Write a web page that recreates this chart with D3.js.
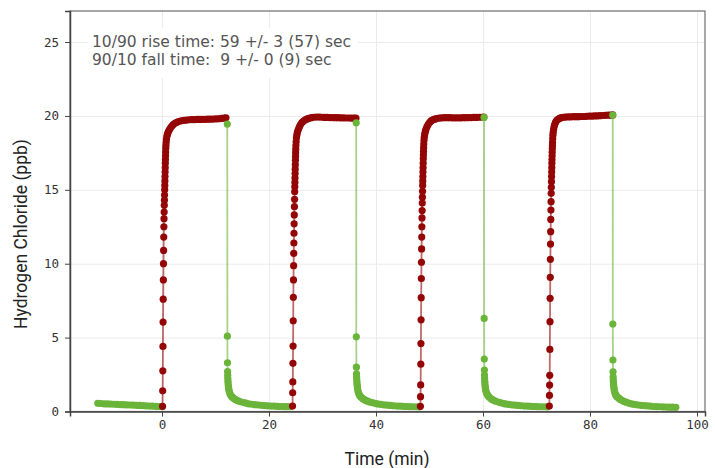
<!DOCTYPE html>
<html>
<head>
<meta charset="utf-8">
<script src="https://cdn.jsdelivr.net/npm/d3@7"></script>
<style>
  body { margin: 0; background: #fff; }
</style>
</head>
<body>
<div id="chart"></div>
<script>
// HCl step test: red = rising (gas on), green = falling (gas off)

// tail before the first step (time in min, ppb)
const preT = [-12.0, -11.4, -10.8, -10.2, -9.6, -9.0, -8.4, -7.8, -7.2, -6.6, -6.0,
              -5.4, -4.8, -4.2, -3.6, -3.0, -2.4, -1.8, -1.2, -0.6, 0.0];
const preV = [0.55, 0.54, 0.52, 0.51, 0.50, 0.49, 0.48, 0.47, 0.46, 0.45, 0.44,
              0.43, 0.42, 0.41, 0.40, 0.38, 0.37, 0.36, 0.35, 0.34, 0.33];

// step times (min)
const riseStart = [0.1, 24.4, 48.3, 72.4];
const fallStart = [12.2, 36.3, 60.2, 84.25];

// rise: steep part (distinct dots), times after rise start
const steepT = [0, 0.025, 0.05, 0.075, 0.1, 0.125, 0.15, 0.175, 0.2, 0.225, 0.25,
                0.275, 0.3, 0.325, 0.35, 0.375, 0.4];
const steepV1 = [0.35, 1.4, 2.75, 4.4, 6.05, 7.6, 8.9, 10.0, 10.9, 11.8, 12.5, 13.05, 13.5, 13.95, 14.3, 14.65, 15.0];
const steepV2 = [0.37, 1.27, 2.0, 3.26, 4.43, 6.14, 7.73, 8.9, 9.87, 10.7, 11.4, 12.06, 12.7, 13.3, 13.86, 14.36, 14.87];
const steepV3 = [0.35, 1.0, 1.8, 3.2, 4.6, 6.2, 7.7, 9.0, 10.1, 11.0, 11.8, 12.5, 13.1, 13.6, 14.1, 14.5, 14.9];
const steepV4 = [0.37, 1.09, 1.79, 2.45, 4.2, 6.08, 7.66, 9.08, 10.3, 11.33, 12.17, 13.0, 13.63, 14.2, 14.76, 15.17, 15.55];

// rise: knee and plateau, times after rise start
const kneeT = [0.42, 0.44, 0.46, 0.48, 0.5, 0.52, 0.54, 0.56, 0.58, 0.6,
               0.63, 0.67, 0.72, 0.8, 0.9, 1.0, 1.15, 1.3, 1.5, 1.75, 2.0,
               2.3, 2.65, 3.0, 3.5, 4.0, 4.5, 5.0, 5.5, 6.0, 6.5, 7.0, 7.5, 8.0, 8.5, 9.0,
               9.5, 10.0, 10.5, 11.0, 11.5, 11.85];
const kneeV1 = [15.3, 15.6, 15.9, 16.2, 16.5, 16.8, 17.05, 17.3, 17.55, 17.8,
                18.0, 18.2, 18.4, 18.6, 18.75, 18.85, 18.98, 19.08, 19.2, 19.32, 19.42,
                19.5, 19.57, 19.62, 19.67, 19.7, 19.72, 19.74, 19.75, 19.75, 19.76, 19.76, 19.77, 19.77, 19.78, 19.78,
                19.79, 19.8, 19.81, 19.83, 19.85, 19.87];
const kneeV2 = [15.2, 15.5, 15.8, 16.1, 16.4, 16.7, 17.0, 17.25, 17.5, 17.75,
                18.0, 18.25, 18.5, 18.7, 18.88, 19.0, 19.15, 19.28, 19.42, 19.55, 19.64,
                19.72, 19.78, 19.83, 19.88, 19.91, 19.92, 19.92, 19.91, 19.9, 19.9, 19.89, 19.89, 19.88, 19.88, 19.87,
                19.87, 19.86, 19.86, 19.85, 19.85, 19.85];
const kneeV3 = [15.3, 15.6, 15.9, 16.2, 16.5, 16.8, 17.1, 17.35, 17.6, 17.85,
                18.1, 18.35, 18.55, 18.75, 18.92, 19.05, 19.2, 19.32, 19.45, 19.57, 19.66,
                19.73, 19.78, 19.82, 19.85, 19.87, 19.88, 19.88, 19.88, 19.87, 19.87, 19.87, 19.87, 19.88, 19.88, 19.89,
                19.89, 19.9, 19.9, 19.91, 19.91, 19.92];
const kneeV4 = [15.9, 16.2, 16.5, 16.8, 17.05, 17.3, 17.55, 17.8, 18.0, 18.2,
                18.45, 18.7, 18.9, 19.1, 19.28, 19.42, 19.55, 19.65, 19.74, 19.8, 19.85,
                19.89, 19.91, 19.92, 19.93, 19.94, 19.95, 19.95, 19.95, 19.96, 19.96, 19.97, 19.98, 19.99, 20.0, 20.01,
                20.02, 20.03, 20.04, 20.05, 20.06, 20.07];

// fall and decay, times after fall start
const decayT = [0, 0.02, 0.04, 0.06, 0.08, 0.1, 0.13, 0.16, 0.2, 0.25,
                0.3, 0.4, 0.5, 0.65, 0.8, 1.0, 1.25, 1.5, 1.8, 2.1,
                2.5, 3.0, 3.5, 4.0, 4.6, 5.2, 5.8, 6.4, 7.0, 7.6,
                8.2, 8.8, 9.4, 10.0, 10.6, 11.2, 11.8];
const decayV1 = [19.45, 5.1, 3.3, 2.7, 2.45, 2.25, 2.05, 1.88, 1.72, 1.58,
                 1.46, 1.32, 1.2, 1.1, 1.02, 0.95, 0.88, 0.82, 0.76, 0.71,
                 0.66, 0.61, 0.56, 0.52, 0.49, 0.46, 0.44, 0.42, 0.40, 0.38,
                 0.37, 0.36, 0.35, 0.34, 0.33, 0.33, 0.32];
const decayV2 = [19.54, 5.05, 3.0, 2.55, 2.35, 2.18, 2.0, 1.85, 1.7, 1.56,
                 1.45, 1.3, 1.19, 1.09, 1.01, 0.94, 0.87, 0.81, 0.75, 0.7,
                 0.65, 0.6, 0.55, 0.51, 0.48, 0.45, 0.43, 0.41, 0.39, 0.37,
                 0.36, 0.35, 0.34, 0.33, 0.32, 0.32, 0.31];
const decayV3 = [19.9, 6.3, 3.55, 2.8, 2.47, 2.25, 2.05, 1.88, 1.72, 1.58,
                 1.46, 1.32, 1.22, 1.12, 1.04, 0.96, 0.88, 0.82, 0.76, 0.71,
                 0.66, 0.6, 0.55, 0.51, 0.48, 0.45, 0.43, 0.41, 0.39, 0.37,
                 0.36, 0.35, 0.34, 0.33, 0.32, 0.32, 0.31];
const decayV4 = [20.06, 5.92, 3.48, 2.69, 2.35, 2.15, 1.98, 1.83, 1.68, 1.54,
                 1.42, 1.28, 1.17, 1.07, 1.0, 0.94, 0.87, 0.8, 0.74, 0.68,
                 0.63, 0.57, 0.52, 0.48, 0.45, 0.42, 0.4, 0.38, 0.36, 0.34,
                 0.33, 0.32, 0.31, 0.3, 0.29, 0.29, 0.28];

const xTicks = [0, 20, 40, 60, 80, 100];
const yTicks = [0, 5, 10, 15, 20, 25];
const notes = ["10/90 rise time: 59 +/- 3 (57) sec", "90/10 fall time:  9 +/- 0 (9) sec"];

const RED = "#940606", GREEN = "#6ab43a";

// build segments in time order
const steepVs = [steepV1, steepV2, steepV3, steepV4];
const kneeVs = [kneeV1, kneeV2, kneeV3, kneeV4];
const decayVs = [decayV1, decayV2, decayV3, decayV4];

var segments = [{color: GREEN, pts: preT.map((t, i) => [t, preV[i]])}];
for (var c = 0; c < 4; c++) {
    var rise = steepVs[c].map((v, i) => [riseStart[c] + steepT[i], v])
        .concat(kneeVs[c].map((v, i) => [riseStart[c] + kneeT[i], v]));
    segments.push({color: RED, pts: rise});
    var fall = decayVs[c].map((v, i) => [fallStart[c] + decayT[i], v]);
    segments.push({color: GREEN, pts: fall});
}

// dimensions
var margin = {top: 11, right: 10, bottom: 56.5, left: 70};
var width = 715 - margin.left - margin.right;
var height = 468 - margin.top - margin.bottom;

var svg = d3.select("#chart").append("svg")
    .attr("width", 715)
    .attr("height", 468);

var g = svg.append("g")
    .attr("transform", "translate(" + margin.left + "," + margin.top + ")");

var x = d3.scaleLinear().domain([-17.2, 101.5]).range([0, width]);
var y = d3.scaleLinear().domain([0, 27.1]).range([height, 0]);

// grid
g.append("g")
    .attr("transform", "translate(0," + height + ")")
    .call(d3.axisBottom(x).tickValues(xTicks).tickSize(-height).tickFormat(""))
    .call(a => a.select(".domain").remove())
    .selectAll("line").attr("stroke", "#ebebeb");
g.append("g")
    .call(d3.axisLeft(y).tickValues(yTicks).tickSize(-width).tickFormat(""))
    .call(a => a.select(".domain").remove())
    .selectAll("line").attr("stroke", "#ebebeb");

// white box behind the note text
g.append("rect")
    .attr("x", 18).attr("y", 17)
    .attr("width", 270).attr("height", 50)
    .attr("fill", "#fff");

// data
var line = d3.line().x(d => x(d[0])).y(d => y(d[1]));
segments.forEach(s => {
    var sg = g.append("g");
    sg.append("path")
        .attr("d", line(s.pts))
        .attr("fill", "none")
        .attr("stroke", s.color)
        .attr("stroke-opacity", 0.6)
        .attr("stroke-width", 1.8);
    sg.selectAll("circle")
        .data(s.pts)
        .enter().append("circle")
        .attr("cx", d => x(d[0]))
        .attr("cy", d => y(d[1]))
        .attr("r", 3.6)
        .attr("fill", s.color);
});

// frame
g.append("rect")
    .attr("width", width).attr("height", height)
    .attr("fill", "none")
    .attr("stroke", "#6e6e6e")
    .attr("stroke-width", 1.2);

// axes
var xAxis = g.append("g")
    .attr("transform", "translate(0," + height + ")")
    .call(d3.axisBottom(x).tickValues(xTicks).tickSize(5).tickPadding(4));
var yAxis = g.append("g")
    .call(d3.axisLeft(y).tickValues(yTicks).tickSize(5).tickPadding(6));
[xAxis, yAxis].forEach(a => {
    a.select(".domain").attr("stroke", "#444").attr("stroke-width", 1.5);
    a.selectAll(".tick line").attr("stroke", "#444");
    a.selectAll(".tick text")
        .style("font-family", "'DejaVu Sans Mono', monospace")
        .style("font-size", "12.5px")
        .attr("fill", "#333");
});

// note text
g.append("g").selectAll("text")
    .data(notes)
    .enter().append("text")
    .attr("x", 22)
    .attr("y", (d, i) => 35.5 + i * 18.5)
    .attr("xml:space", "preserve")
    .style("white-space", "pre")
    .style("font-family", "'DejaVu Sans', sans-serif")
    .style("font-size", "15.5px")
    .attr("fill", "#555")
    .text(d => d);

// axis titles
svg.append("text")
    .attr("x", 387).attr("y", 465)
    .attr("text-anchor", "middle")
    .style("font-family", "Roboto, sans-serif")
    .style("font-size", "17.5px")
    .attr("fill", "#222")
    .text("Time (min)");
svg.append("text")
    .attr("transform", "translate(27,234) rotate(-90)")
    .attr("text-anchor", "middle")
    .style("font-family", "Roboto, sans-serif")
    .style("font-size", "17.5px")
    .attr("fill", "#222")
    .text("Hydrogen Chloride (ppb)");
</script>
</body>
</html>
